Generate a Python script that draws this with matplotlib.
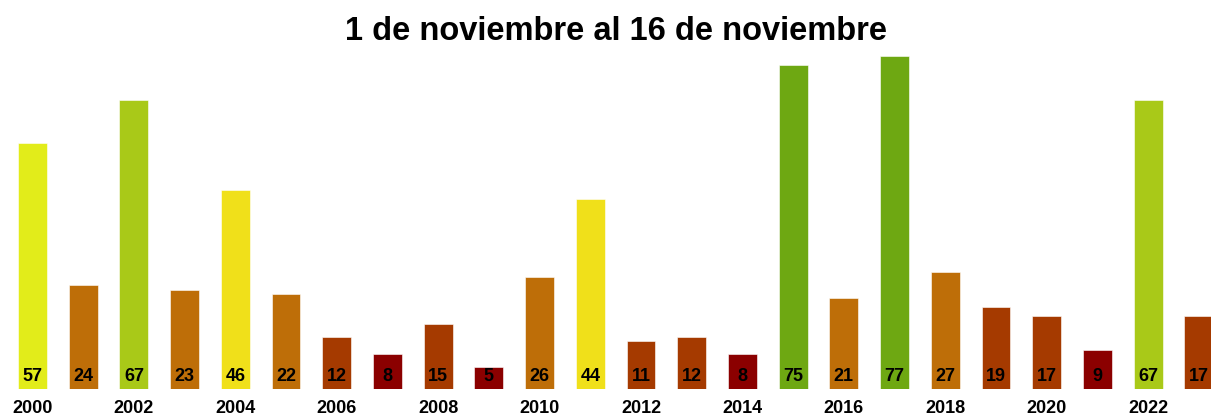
import numpy as np
import matplotlib.pyplot as plt

plt.rcParams['font.family'] = ['Liberation Sans', 'DejaVu Sans']

years = list(range(2000, 2024))
values = [57, 24, 67, 23, 46, 22, 12, 8, 15, 5, 26, 44, 11, 12, 8, 75, 21, 77, 27, 19, 17, 9, 67, 17]
colors = ['#E2EC1A', '#BE6E08', '#A9C918', '#BE6E08', '#F0E01A', '#BE6E08',
          '#A53A00', '#8B0000', '#A53A00', '#8B0000', '#BE6E08', '#F0E01A',
          '#A53A00', '#A53A00', '#8B0000', '#6EA812', '#BE6E08', '#6EA812',
          '#BE6E08', '#A53A00', '#A53A00', '#8B0000', '#A9C918', '#A53A00']
tick_years = years[::2]

fig = plt.figure(figsize=(12.11, 4.19), dpi=100)
ax = fig.add_axes([0, 30 / 419, 1, (389 - 50) / 419])

x = np.arange(len(years))
ax.bar(x, values, width=0.57, color=colors, edgecolor='white', linewidth=0.4)
for xi, v in zip(x, values):
    ax.text(xi, 2.8, str(v), ha='center', va='center', fontsize=13,
            fontweight='bold', color='black')

ax.set_xlim(-0.64, 23.24)
ax.set_ylim(0, 78.5)
ax.set_xticks(x[::2])
ax.set_xticklabels([str(y) for y in tick_years], fontsize=13, fontweight='bold')
ax.tick_params(axis='x', length=0, pad=8)
ax.set_yticks([])
for s in ax.spines.values():
    s.set_visible(False)

fig.text(0.509, 1 - 31 / 419, '1 de noviembre al 16 de noviembre', ha='center',
         va='center', fontsize=23.5, fontweight='bold')

fig.savefig('out.png', dpi=100)
